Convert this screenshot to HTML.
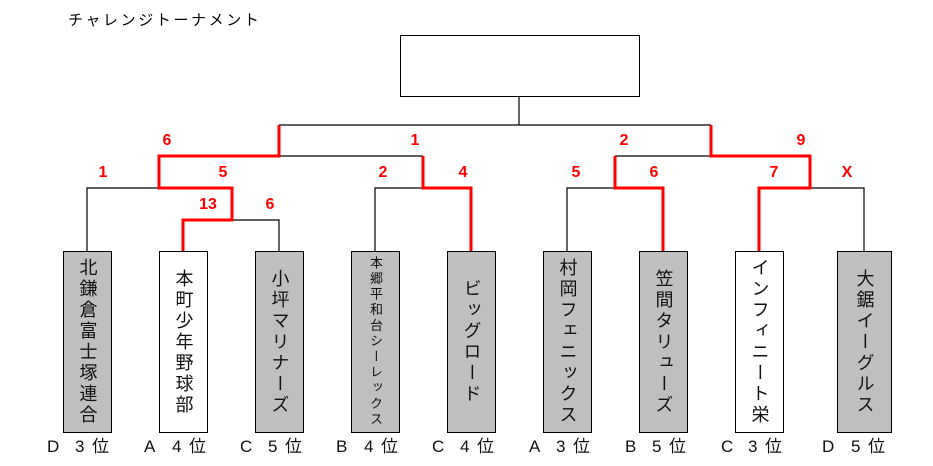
<!DOCTYPE html>
<html><head><meta charset="utf-8"><style>
body{margin:0;width:933px;height:466px;background:#fff;position:relative;overflow:hidden;font-family:"Liberation Sans","Noto Sans CJK JP",sans-serif}
.b{position:absolute;top:251px;height:180px;width:47px;border:1px solid #000;background:#bfbfbf;display:flex;align-items:center;justify-content:center}
.w{background:#fff}
.v{writing-mode:vertical-rl;text-orientation:upright;font-size:18px;letter-spacing:3px;color:#111;line-height:1}
.s{font-size:13px;letter-spacing:2.6px}
.l{position:absolute;top:438px;font-size:17px;color:#111;white-space:pre;line-height:17px;height:17px}
.l span{position:absolute;top:0;line-height:17px;display:block}
.n{position:absolute;color:#f00;font-weight:bold;font-size:16px;transform:translateX(-50%)}
</style></head><body>
<div style="position:absolute;left:68px;top:9px;font-size:15px;letter-spacing:2.6px">チャレンジトーナメント</div>
<svg width="933" height="466" style="position:absolute;left:0;top:0">
<rect x="400.5" y="35.5" width="239" height="61" fill="#fff" stroke="#000"/>
<g stroke="#000" stroke-width="1.2" fill="none">
<path d="M519 96V125M279 125H711"/>
<path d="M87 251V188H159"/>
<path d="M232 220H279V251"/>
<path d="M279 156H423M375 251V188H423"/>
<path d="M567 251V188H615M615 156H711"/>
<path d="M810 188H864V251"/>
</g>
<g stroke="#f00" stroke-width="3" fill="none">
<path d="M183 251V220H232V188H159V156H279V125"/>
<path d="M471 251V188H423V156"/>
<path d="M663 251V188H615V156"/>
<path d="M711 125V156H810V188H759V251"/>
</g>
</svg>
<div class="b" style="left:63px"><span class="v">北鎌倉富士塚連合</span></div>
<div class="b w" style="left:159px"><span class="v">本町少年野球部</span></div>
<div class="b" style="left:255px"><span class="v">小坪マリナーズ</span></div>
<div class="b" style="left:351px"><span class="v s">本郷平和台シーレックス</span></div>
<div class="b" style="left:447px"><span class="v">ビッグロード</span></div>
<div class="b" style="left:543px"><span class="v">村岡フェニックス</span></div>
<div class="b" style="left:639px"><span class="v">笠間タリューズ</span></div>
<div class="b w" style="left:735px"><span class="v">インフィニート栄</span></div>
<div class="b" style="left:837px;width:53px"><span class="v">大鋸イーグルス</span></div>
<div class="l" style="left:47px"><span>D</span><span style="left:28px">3</span><span style="left:45px">位</span></div>
<div class="l" style="left:144px"><span>A</span><span style="left:28px">4</span><span style="left:45px">位</span></div>
<div class="l" style="left:240px"><span>C</span><span style="left:28px">5</span><span style="left:45px">位</span></div>
<div class="l" style="left:336px"><span>B</span><span style="left:28px">4</span><span style="left:45px">位</span></div>
<div class="l" style="left:432px"><span>C</span><span style="left:28px">4</span><span style="left:45px">位</span></div>
<div class="l" style="left:529px"><span>A</span><span style="left:27px">3</span><span style="left:44px">位</span></div>
<div class="l" style="left:625px"><span>B</span><span style="left:27px">5</span><span style="left:44px">位</span></div>
<div class="l" style="left:721px"><span>C</span><span style="left:27px">3</span><span style="left:44px">位</span></div>
<div class="l" style="left:822px"><span>D</span><span style="left:29px">5</span><span style="left:46px">位</span></div>
<div class="n" style="left:167px;top:132px">6</div>
<div class="n" style="left:415px;top:132px">1</div>
<div class="n" style="left:624px;top:132px">2</div>
<div class="n" style="left:801px;top:132px">9</div>
<div class="n" style="left:103px;top:164px">1</div>
<div class="n" style="left:223px;top:164px">5</div>
<div class="n" style="left:383px;top:164px">2</div>
<div class="n" style="left:463px;top:164px">4</div>
<div class="n" style="left:576px;top:164px">5</div>
<div class="n" style="left:654px;top:164px">6</div>
<div class="n" style="left:774px;top:164px">7</div>
<div class="n" style="left:847px;top:164px">X</div>
<div class="n" style="left:208px;top:196px">13</div>
<div class="n" style="left:270px;top:196px">6</div>
</body></html>
